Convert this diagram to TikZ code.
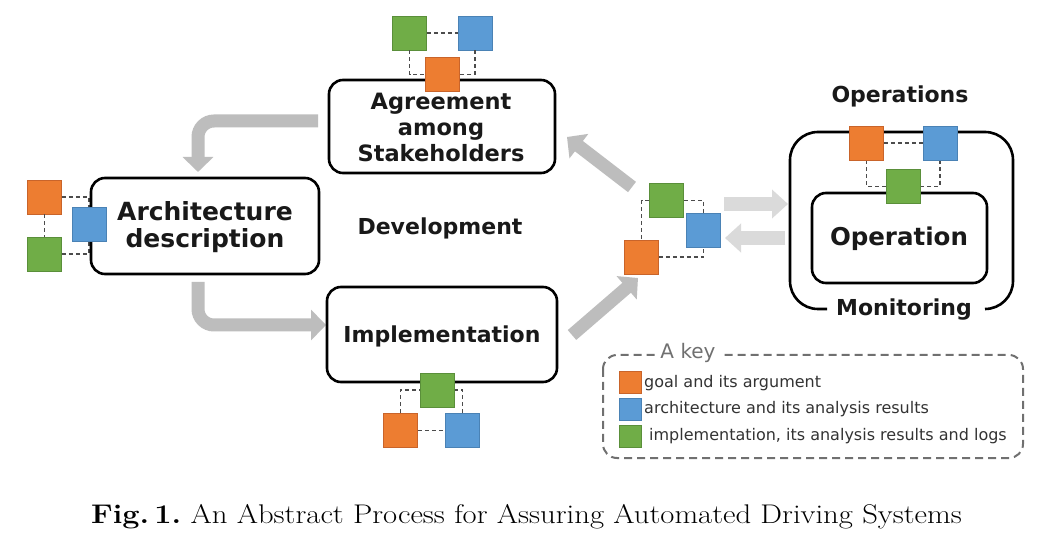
\documentclass[tikz,border=0pt]{standalone}
\usepackage{fontspec}
\usepackage{graphicx}
\newfontfamily\dv{DejaVu Sans}
\usetikzlibrary{arrows.meta}
\definecolor{sqorange}{HTML}{ED7D31}
\definecolor{sqblue}{HTML}{5B9BD5}
\definecolor{sqgreen}{HTML}{70AD47}
\definecolor{bdorange}{HTML}{C9642A}
\definecolor{bdblue}{HTML}{4A82B5}
\definecolor{bdgreen}{HTML}{5A8F3A}
\definecolor{arrgray}{HTML}{BDBDBD}
\definecolor{arrlight}{HTML}{DADADA}
\definecolor{keygray}{HTML}{707070}
\definecolor{keytext}{HTML}{333333}
\tikzset{
  procbox/.style={draw=black, line width=2.6pt, rounded corners=14pt, fill=white, inner sep=0pt},
  sq/.style={minimum size=34pt, inner sep=0pt, line width=0.8pt},
  og/.style={sq, fill=sqorange, draw=bdorange},
  bl/.style={sq, fill=sqblue, draw=bdblue},
  gr/.style={sq, fill=sqgreen, draw=bdgreen},
  ksq/.style={minimum size=22pt, inner sep=0pt, line width=0.8pt},
  link/.style={draw=black!70, line width=1.3pt, dash pattern=on 4pt off 3pt},
  bigarrow/.style={draw=arrgray, line width=13pt, rounded corners=16pt, -{Triangle[width=30pt,length=15pt]}},
  lightarrow/.style={draw=arrlight, line width=14pt, -{Triangle[width=28pt,length=16pt]}},
  lbl/.style={font=\dv\bfseries\fontsize{22}{26}\selectfont, text=black!90, align=center, inner sep=0pt},
  keytxt/.style={font=\dv\fontsize{16}{18}\selectfont, text=keytext, anchor=west, inner sep=0pt},
}
\begin{document}
\begin{tikzpicture}[x=1pt,y=-1pt]
\useasboundingbox (0,0) rectangle (1045,553);
\fill[white] (0,0) rectangle (1045,553);

% arrows
\coordinate (a1s) at (318,121); \coordinate (a1m) at (198,121); \coordinate (a1e) at (198,172);
\coordinate (a2s) at (198,282); \coordinate (a2m) at (198,325); \coordinate (a2e) at (326,325);
\coordinate (a3s) at (572,335); \coordinate (a3e) at (638,278);
\coordinate (a4s) at (632,187); \coordinate (a4e) at (567,137);
\coordinate (a5s) at (724,204); \coordinate (a5e) at (788,204);
\coordinate (a6s) at (785,238); \coordinate (a6e) at (725,238);
\draw[bigarrow] (a1s) -- (a1m) -- (a1e);
\draw[bigarrow] (a2s) -- (a2m) -- (a2e);
\draw[bigarrow] (a3s) -- (a3e);
\draw[bigarrow] (a4s) -- (a4e);
\draw[lightarrow] (a5s) -- (a5e);
\draw[lightarrow] (a6s) -- (a6e);

% Agreement
\node[og] (agO) at (442.5,74.5) {};
\node[gr] (agG) at (409.5,33) {};
\node[bl] (agB) at (475,33) {};
\draw[link] (agG.east) -- (agB.west);
\draw[link] (agG.south) |- (agO.west);
\draw[link] (agB.south) |- (agO.east);
\node[procbox, minimum width=226pt, minimum height=93pt] (agree) at (442,126.5) {};
\node[lbl, font=\dv\bfseries\fontsize{22.5}{26}\selectfont] (agreetxt) at (441,127) {Agreement\\among\\Stakeholders};
\node[og] at (agO) {};

% Architecture
\node[og] (arO) at (44.5,197) {};
\node[bl] (arB) at (89,224.5) {};
\node[gr] (arG) at (44.5,254) {};
\draw[link] (arO.east) -| (arB.north);
\draw[link] (arG.east) -| (arB.south);
\draw[link] (arO.south) -- (arG.north);
\node[procbox, minimum width=228pt, minimum height=96pt] (arch) at (205,226) {};
\node[lbl, font=\dv\bfseries\fontsize{25}{27}\selectfont] (archtxt) at (205,227) {Architecture\\description};
\node[bl] at (arB) {};

% Implementation
\node[gr] (imG) at (437,390) {};
\node[og] (imO) at (400.5,430.5) {};
\node[bl] (imB) at (462.5,430.5) {};
\draw[link] (imO.east) -- (imB.west);
\draw[link] (imO.north) |- (imG.west);
\draw[link] (imB.north) |- (imG.east);
\node[procbox, minimum width=230pt, minimum height=95pt] (impl) at (442,334.5) {};
\node[lbl] (impltxt) at (442,336) {Implementation};
\node[gr] at (imG) {};

% Development
\node[lbl] (dev) at (440,228) {Development};

% middle cluster
\node[gr] (mG) at (666.5,200.5) {};
\node[bl] (mB) at (703.5,230.5) {};
\node[og] (mO) at (641.5,257) {};
\draw[link] (mG.west) -| (mO.north);
\draw[link] (mG.east) -| (mB.north);
\draw[link] (mO.east) -| (mB.south);
\node[gr] at (mG) {};
\node[bl] at (mB) {};
\node[og] at (mO) {};

% Operations
\node[lbl] (opstitle) at (900,96) {Operations};
\draw[black, line width=2.6pt, rounded corners=28pt] (827,309) -- (790,309) -- (790,132) -- (1013,132) -- (1013,309) -- (985,309);
\node[lbl] (monit) at (904,309.5) {Monitoring};
\node[og] (opO) at (866.5,143) {};
\node[bl] (opB) at (940,143) {};
\node[gr] (opG) at (903.5,186.5) {};
\draw[link] (opO.east) -- (opB.west);
\draw[link] (opO.south) |- (opG.west);
\draw[link] (opB.south) |- (opG.east);
\node[procbox, minimum width=175pt, minimum height=90pt] (oper) at (899.5,238) {};
\node[lbl, font=\dv\bfseries\fontsize{24.5}{27}\selectfont] (opertxt) at (899,239) {Operation};
\node[og] at (opO) {};
\node[bl] at (opB) {};
\node[gr] at (opG) {};

% Key
\draw[keygray, line width=2pt, dash pattern=on 8pt off 5pt, rounded corners=14pt] (603,355) rectangle (1023,458);
\node[fill=white, text=keygray, font=\dv\fontsize{20}{22}\selectfont, inner sep=4pt] (keytitle) at (688,353) {A key};
\node[ksq, fill=sqorange, draw=bdorange] (k1) at (630,382.5) {};
\node[ksq, fill=sqblue, draw=bdblue] (k2) at (630,409) {};
\node[ksq, fill=sqgreen, draw=bdgreen] (k3) at (630,436) {};
\node[keytxt] (k1t) at (644,383) {goal and its argument};
\node[keytxt] (k2t) at (644,409.5) {architecture and its analysis results};
\node[keytxt] (k3t) at (649,436.5) {implementation, its analysis results and logs};

% caption
\node[inner sep=0pt] (caption) at (526.5,517) {\scalebox{1.136}[1]{\fontsize{27}{30}\selectfont\frenchspacing\textbf{Fig.\,1.} An Abstract Process for Assuring Automated Driving Systems}};
\end{tikzpicture}
\end{document}
